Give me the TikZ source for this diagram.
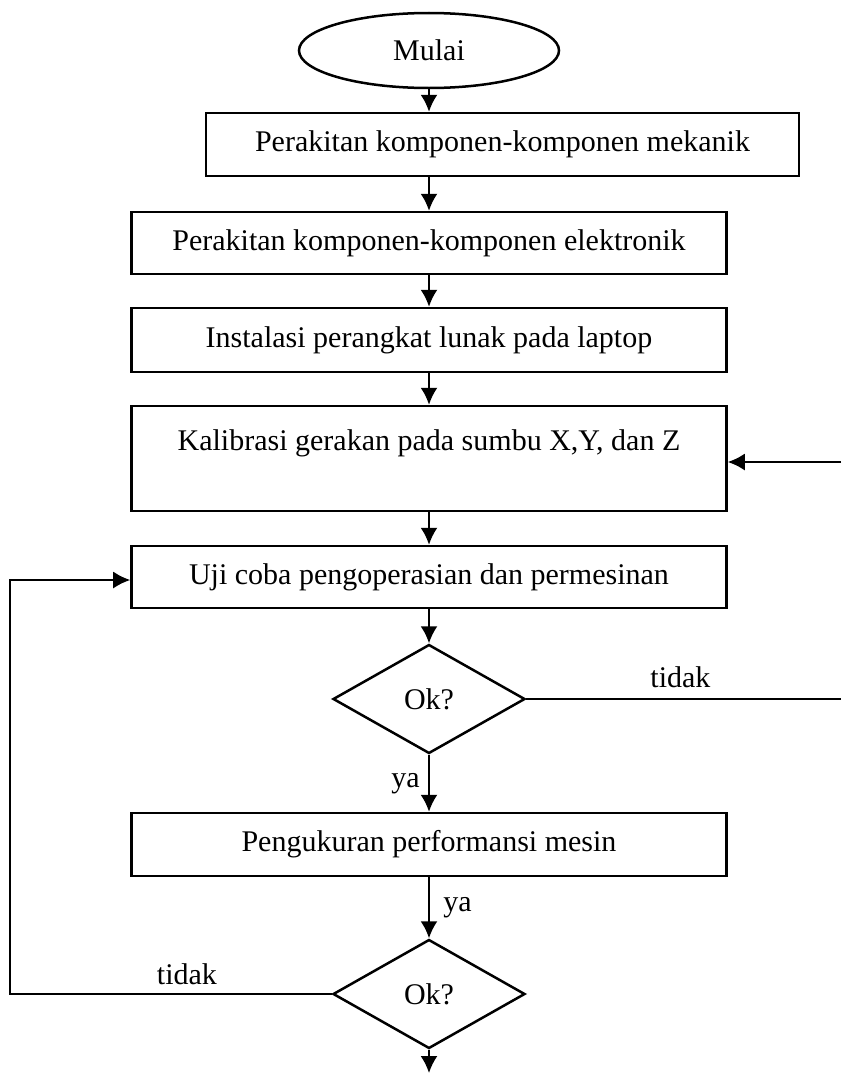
\documentclass[tikz,border=0pt]{standalone}
\usepackage{fontspec}
\setmainfont{Liberation Serif}
\usetikzlibrary{shapes.geometric,arrows.meta}

\tikzset{%
  >={Latex[length=6.8pt,width=6.8pt]},
  prosesbox/.style={draw,line width=1pt,rectangle,minimum width=238pt,minimum height=24.8pt,inner sep=0pt},
  keputusan/.style={draw,line width=1pt,diamond,minimum width=76.8pt,minimum height=43.6pt,inner sep=0pt},
  alur/.style={->,line width=0.8pt},
  garis/.style={line width=0.6pt}
}

\begin{document}
\begin{tikzpicture}[x=0.4pt,y=-0.4pt,font=\fontsize{12}{14.5}\selectfont]
  \useasboundingbox (0,0) rectangle (841,1073);

  \node[ellipse,draw,line width=1pt,minimum width=104pt,minimum height=30pt] (mulai) at (429,50.5) {Mulai};
  \node[prosesbox,minimum width=237.2pt,minimum height=25.2pt] (mekanik) at (502.5,144.5) {Perakitan komponen-komponen mekanik};
  \node[prosesbox] (elektronik) at (429,243) {Perakitan komponen-komponen elektronik};
  \node[prosesbox,minimum height=25.6pt] (lunak) at (429,340) {Instalasi perangkat lunak pada laptop};
  \node[prosesbox,minimum height=42pt,align=center] (kalibrasi) at (429,458.5) {Kalibrasi gerakan pada sumbu X,Y, dan Z\\~};
  \node[prosesbox] (ujicoba) at (429,577) {Uji coba pengoperasian dan permesinan};
  \node[keputusan] (ok1) at (429,699) {Ok?};
  \node[prosesbox,minimum height=25.2pt] (ukur) at (429,844.5) {Pengukuran performansi mesin};
  \node[keputusan] (ok2) at (429,994) {Ok?};

  \coordinate (kanan1) at (841,462);
  \coordinate (kanan2) at (841,699);
  \coordinate (kiri) at (10,994);
  \coordinate (akhir) at (429,1073);

  % alur utama
  \draw[alur] (mulai.south) -- (mulai.south |- mekanik.north);
  \draw[alur] (mekanik.south -| mulai) -- (elektronik.north);
  \draw[alur] (elektronik) -- (lunak);
  \draw[alur] (lunak) -- (kalibrasi);
  \draw[alur] (kalibrasi) -- (ujicoba);
  \draw[alur] (ujicoba) -- (ok1);
  \draw[alur] (ok1) -- node[left] {ya} (ukur);
  \draw[alur] (ukur) -- node[right,xshift=2pt] {ya} (ok2);
  \draw[alur] (ok2) -- (akhir);

  % umpan balik
  \draw[garis] (ok1.east) -- node[pos=0.49,above,yshift=1pt] {tidak} (kanan2);
  \draw[alur] (kanan1) -- (kalibrasi.east |- kanan1);
  \draw[alur] (ok2.west) -- node[pos=0.45,above] {tidak} (kiri) |- ([yshift=-1.2pt]ujicoba.west);

\end{tikzpicture}
\end{document}
